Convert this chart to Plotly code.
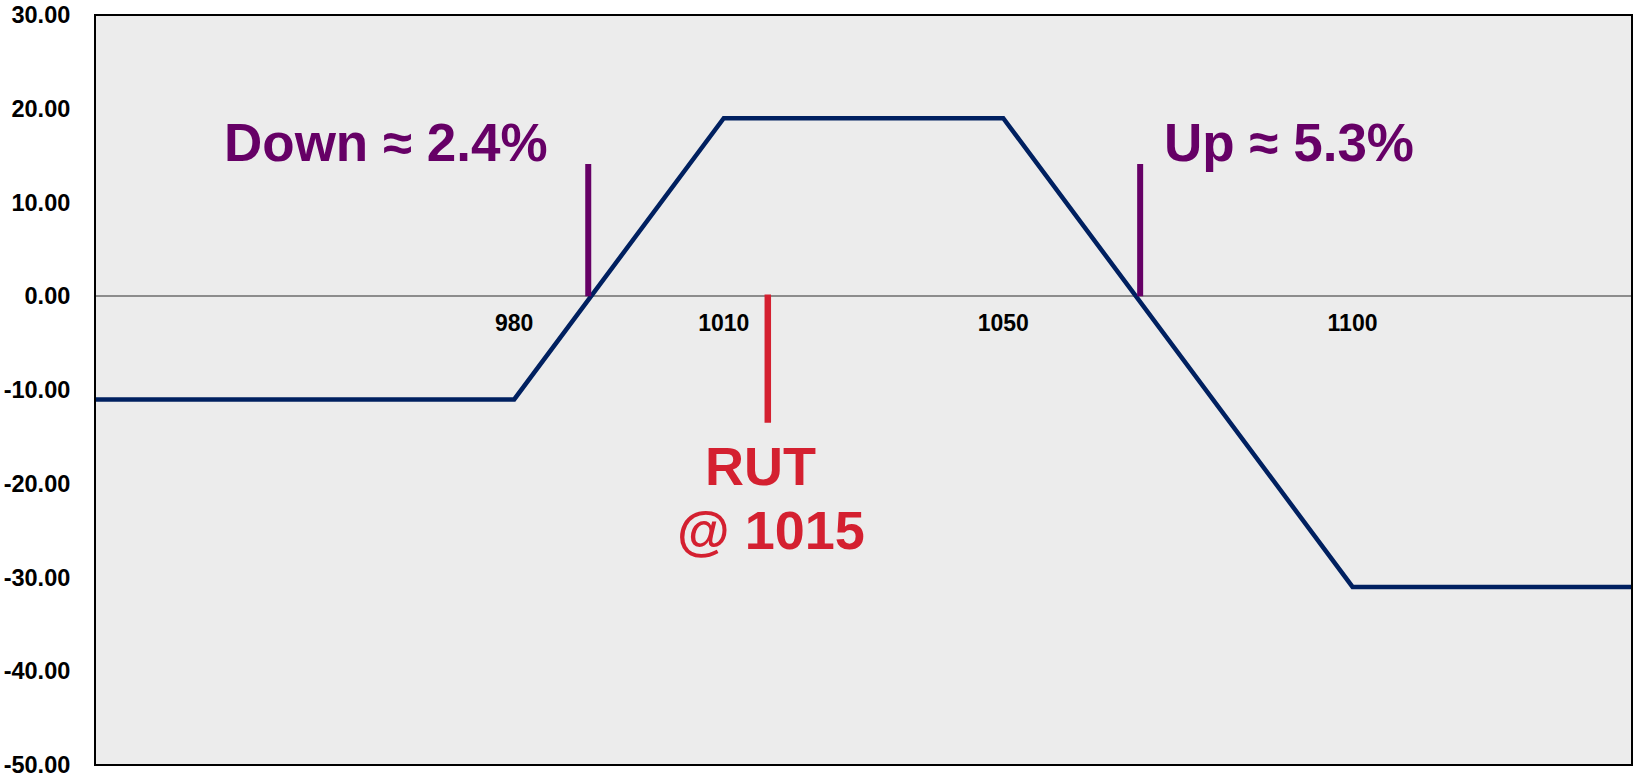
import plotly.graph_objects as go

# Payoff profile (underlying price vs P/L)
prices = [920, 980, 1010, 1050, 1100, 1140]
payoff = [-11, -11, 19, 19, -31, -31]

x_tick_vals = [980, 1010, 1050, 1100]
x_tick_text = ["980", "1010", "1050", "1100"]

y_tick_vals = [30, 20, 10, 0, -10, -20, -30, -40, -50]
y_tick_text = ["30.00", "20.00", "10.00", "0.00", "-10.00", "-20.00",
               "-30.00", "-40.00", "-50.00"]

breakeven_down = 990.6
breakeven_up = 1069.6
rut_price = 1016.3

label_down = "Down ≈ 2.4%"
label_up = "Up ≈ 5.3%"
label_rut_1 = "RUT"
label_rut_2 = "@ 1015"

NAVY = "#002060"
PURPLE = "#660066"
RED = "#D42030"
FONT = "Liberation Sans, Arial, sans-serif"

fig = go.Figure()
fig.add_trace(go.Scatter(x=prices, y=payoff, mode="lines",
                         line=dict(color=NAVY, width=4.5), hoverinfo="skip",
                         showlegend=False))

shapes = [
    dict(type="line", xref="x", yref="y", x0=breakeven_down, x1=breakeven_down,
         y0=0, y1=14.1, line=dict(color=PURPLE, width=6)),
    dict(type="line", xref="x", yref="y", x0=breakeven_up, x1=breakeven_up,
         y0=0, y1=14.1, line=dict(color=PURPLE, width=6)),
    dict(type="line", xref="x", yref="y", x0=rut_price, x1=rut_price,
         y0=0.2, y1=-13.5, line=dict(color=RED, width=6.5)),
    dict(type="rect", xref="paper", yref="paper", x0=0, x1=1, y0=0, y1=1,
         line=dict(color="black", width=2), layer="above"),
]

big = dict(family=FONT, size=53, weight="bold")
annotations = [
    dict(x=961.7, y=16.4, text=label_down, showarrow=False,
         font=dict(**big, color=PURPLE), xanchor="center", yanchor="middle"),
    dict(x=1090.9, y=16.4, text=label_up, showarrow=False,
         font=dict(**big, color=PURPLE), xanchor="center", yanchor="middle"),
    dict(x=1015.3, y=-18.1, text=label_rut_1, showarrow=False,
         font=dict(family=FONT, size=54, weight="bold", color=RED),
         xanchor="center", yanchor="middle"),
    dict(x=1016.7, y=-24.9, text=label_rut_2, showarrow=False,
         font=dict(family=FONT, size=54, weight="bold", color=RED),
         xanchor="center", yanchor="middle"),
]

fig.update_layout(
    width=1633, height=778,
    margin=dict(l=95, r=1, t=15, b=13),
    paper_bgcolor="white",
    plot_bgcolor="#ECECEC",
    shapes=shapes,
    annotations=annotations,
    showlegend=False,
    xaxis=dict(range=[920, 1140], tickvals=x_tick_vals, ticktext=x_tick_text,
               showgrid=False, zeroline=False, showline=False,
               anchor="free", position=0.625,
               ticks="outside", ticklen=0, ticklabelstandoff=6,
               tickfont=dict(family=FONT, size=23, color="black", weight="bold")),
    yaxis=dict(range=[-50, 30], tickvals=y_tick_vals, ticktext=y_tick_text,
               showgrid=False, zeroline=True, zerolinecolor="#8C8C8C",
               zerolinewidth=1.5, showline=False,
               ticks="outside", ticklen=0, ticklabelstandoff=19,
               ticklabeloverflow="allow",
               tickfont=dict(family=FONT, size=23.5, color="black", weight="bold")),
)

fig.write_html("out.html")
